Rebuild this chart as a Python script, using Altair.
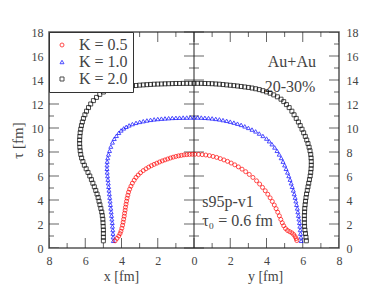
import altair as alt
import pandas as pd

FONT = "Liberation Serif"
TXT = "#444444"

labels = ["K = 0.5", "K = 1.0", "K = 2.0"]
colors = ["#ff0000", "#0000ff", "#000000"]
shapes = ["circle", "triangle-up", "square"]

# K = 0.5 (red circles): left half x [fm] vs tau, right half y [fm] vs tau
k05_x = [4.35, 4.25, 4.15, 4.08, 4.03, 3.98, 3.94, 3.91, 3.88, 3.85, 3.83, 3.80, 3.78, 3.75, 3.72,
         3.69, 3.65, 3.61, 3.55, 3.48, 3.40, 3.30, 3.20, 3.08, 2.95, 2.80, 2.65, 2.50, 2.35, 2.20,
         2.05, 1.90, 1.75, 1.60, 1.45, 1.30, 1.15, 1.00, 0.85, 0.70, 0.55, 0.40, 0.25, 0.10]
k05_x_tau = [0.60, 0.80, 1.00, 1.20, 1.40, 1.65, 1.90, 2.15, 2.40, 2.65, 2.90, 3.15, 3.40, 3.65, 3.90,
             4.15, 4.40, 4.65, 4.90, 5.15, 5.40, 5.65, 5.88, 6.08, 6.27, 6.45, 6.60, 6.74, 6.86, 6.97,
             7.07, 7.17, 7.26, 7.34, 7.42, 7.50, 7.57, 7.63, 7.68, 7.72, 7.76, 7.78, 7.80, 7.81]
k05_y = [0.05, 0.25, 0.45, 0.65, 0.85, 1.05, 1.25, 1.45, 1.65, 1.85, 2.05, 2.25, 2.45, 2.65, 2.85,
         3.05, 3.25, 3.45, 3.62, 3.78, 3.93, 4.07, 4.20, 4.32, 4.43, 4.53, 4.62, 4.71, 4.79, 4.87,
         4.95, 5.05, 5.16, 5.28, 5.40, 5.50, 5.58, 5.64, 5.67]
k05_y_tau = [7.81, 7.80, 7.78, 7.75, 7.70, 7.63, 7.55, 7.45, 7.34, 7.22, 7.08, 6.93, 6.76, 6.57, 6.36,
             6.13, 5.88, 5.60, 5.33, 5.05, 4.77, 4.48, 4.18, 3.88, 3.58, 3.28, 2.98, 2.68, 2.38, 2.10,
             1.85, 1.62, 1.46, 1.36, 1.26, 1.12, 0.95, 0.78, 0.62]

# K = 1.0 (blue triangles)
k10_x = [4.45, 4.46, 4.47, 4.48, 4.50, 4.51, 4.53, 4.55, 4.57, 4.59, 4.61, 4.63, 4.65, 4.67, 4.69,
         4.71, 4.73, 4.75, 4.77, 4.79, 4.80, 4.80, 4.79, 4.76, 4.72, 4.66, 4.59, 4.50, 4.40, 4.28,
         4.15, 4.02, 3.88, 3.74, 3.58, 3.40, 3.20, 3.00, 2.80, 2.60, 2.40, 2.20, 2.00, 1.80, 1.60,
         1.40, 1.20, 1.00, 0.80, 0.60, 0.40, 0.20, 0.00]
k10_x_tau = [0.60, 0.90, 1.20, 1.50, 1.80, 2.10, 2.40, 2.70, 3.00, 3.30, 3.60, 3.90, 4.20, 4.50, 4.80,
             5.10, 5.40, 5.70, 6.00, 6.30, 6.60, 6.90, 7.20, 7.50, 7.80, 8.10, 8.45, 8.80, 9.10, 9.35,
             9.60, 9.80, 9.97, 10.10, 10.22, 10.33, 10.43, 10.51, 10.57, 10.63, 10.68, 10.72, 10.75, 10.78, 10.80,
             10.82, 10.84, 10.85, 10.86, 10.87, 10.87, 10.88, 10.88]
k10_y = [0.20, 0.40, 0.60, 0.80, 1.00, 1.20, 1.40, 1.60, 1.80, 2.00, 2.20, 2.40, 2.60, 2.80, 3.00,
         3.20, 3.40, 3.60, 3.80, 4.00, 4.15, 4.30, 4.45, 4.58, 4.70, 4.81, 4.91, 5.00, 5.08, 5.16,
         5.23, 5.30, 5.36, 5.42, 5.48, 5.53, 5.58, 5.62, 5.66, 5.70, 5.73, 5.76, 5.79, 5.82, 5.84,
         5.86, 5.88, 5.90, 5.91]
k10_y_tau = [10.88, 10.87, 10.85, 10.83, 10.80, 10.76, 10.72, 10.66, 10.60, 10.53, 10.45, 10.36, 10.26, 10.14, 10.01,
             9.87, 9.72, 9.54, 9.34, 9.12, 8.90, 8.65, 8.38, 8.10, 7.80, 7.50, 7.20, 6.90, 6.60, 6.30,
             6.00, 5.70, 5.40, 5.10, 4.80, 4.50, 4.20, 3.90, 3.60, 3.30, 3.00, 2.70, 2.40, 2.10, 1.80,
             1.50, 1.20, 0.90, 0.60]

# K = 2.0 (black squares)
k20_x = [5.00, 5.00, 5.00, 5.00, 5.01, 5.02, 5.03, 5.06, 5.09, 5.14, 5.19, 5.24, 5.29, 5.35, 5.42,
         5.50, 5.58, 5.66, 5.75, 5.85, 5.95, 6.05, 6.13, 6.20, 6.25, 6.28, 6.30, 6.31, 6.31, 6.30,
         6.28, 6.25, 6.21, 6.16, 6.10, 6.02, 5.93, 5.82, 5.70, 5.55, 5.38, 5.20, 5.00, 4.80, 4.60,
         4.40, 4.20, 4.00, 3.80, 3.60, 3.40, 3.20, 3.00, 2.80, 2.60, 2.40, 2.20, 2.00, 1.80, 1.60,
         1.40, 1.20, 1.00, 0.80, 0.60, 0.40, 0.20, 0.00]
k20_x_tau = [0.60, 0.90, 1.20, 1.50, 1.80, 2.10, 2.40, 2.70, 3.00, 3.30, 3.60, 3.90, 4.20, 4.50, 4.80,
             5.10, 5.40, 5.70, 6.00, 6.30, 6.60, 6.90, 7.20, 7.50, 7.80, 8.10, 8.40, 8.70, 9.00, 9.30,
             9.60, 9.90, 10.20, 10.50, 10.80, 11.10, 11.40, 11.70, 12.00, 12.28, 12.55, 12.80, 13.00, 13.13, 13.23,
             13.31, 13.37, 13.42, 13.46, 13.49, 13.52, 13.54, 13.57, 13.59, 13.61, 13.63, 13.65, 13.66, 13.67, 13.68,
             13.69, 13.70, 13.71, 13.71, 13.72, 13.72, 13.72, 13.72]
k20_y = [0.20, 0.40, 0.60, 0.80, 1.00, 1.20, 1.40, 1.60, 1.80, 2.00, 2.20, 2.40, 2.60, 2.80, 3.00,
         3.20, 3.40, 3.60, 3.80, 4.00, 4.20, 4.40, 4.60, 4.80, 4.95, 5.10, 5.25, 5.40, 5.52, 5.64,
         5.76, 5.86, 5.96, 6.05, 6.14, 6.22, 6.29, 6.35, 6.40, 6.44, 6.46, 6.47, 6.47, 6.46, 6.44,
         6.41, 6.37, 6.33, 6.29, 6.25, 6.21, 6.18, 6.15, 6.13, 6.11, 6.10, 6.09, 6.09, 6.09, 6.10,
         6.12, 6.15, 6.18, 6.20]
k20_y_tau = [13.72, 13.72, 13.71, 13.70, 13.69, 13.67, 13.65, 13.62, 13.59, 13.56, 13.53, 13.50, 13.46, 13.42, 13.38,
             13.33, 13.27, 13.20, 13.11, 13.01, 12.90, 12.76, 12.60, 12.40, 12.20, 11.95, 11.70, 11.40, 11.10, 10.80,
             10.50, 10.20, 9.90, 9.60, 9.30, 9.00, 8.70, 8.40, 8.10, 7.80, 7.50, 7.20, 6.90, 6.60, 6.30,
             6.00, 5.70, 5.40, 5.10, 4.80, 4.50, 4.20, 3.90, 3.60, 3.30, 3.00, 2.70, 2.40, 2.10, 1.80,
             1.50, 1.20, 0.90, 0.60]

# tick positions
x_major = [-8, -6, -4, -2, 0, 2, 4, 6, 8]
x_minor = [-7, -5, -3, -1, 1, 3, 5, 7]
y_major = [0, 2, 4, 6, 8, 10, 12, 14, 16, 18]
y_minor = [1, 3, 5, 7, 9, 11, 13, 15, 17]

# annotations
ann_text = ["Au+Au", "20-30%"]
ann_pos = [5.4, 5.3]
ann_tau = [15.5, 13.4]
note_text = ["s95p-v1", "τ₀ = 0.6 fm"]
note_pos = [0.45, 0.45]
note_tau = [3.8, 2.25]
xt_text = ["x [fm]", "y [fm]"]
xt_pos = [-4.0, 3.95]
xt_tau = [-2.45, -2.45]

rows = []
for lab, xr, xt, yr, yt in [
    (labels[0], k05_x, k05_x_tau, k05_y, k05_y_tau),
    (labels[1], k10_x, k10_x_tau, k10_y, k10_y_tau),
    (labels[2], k20_x, k20_x_tau, k20_y, k20_y_tau),
]:
    for r, t in zip(xr, xt):
        rows.append({"pos": -r, "tau": t, "K": lab})
    for r, t in zip(yr, yt):
        rows.append({"pos": r, "tau": t, "K": lab})
df = pd.DataFrame(rows)

xs = alt.Scale(domain=[-8, 8], nice=False, zero=False)
ys = alt.Scale(domain=[0, 18], nice=False, zero=False)

X_AXIS = dict(values=x_major, labelExpr="abs(datum.value)", ticks=False, domain=False,
              grid=False, title=None, labelFont=FONT, labelFontSize=12, labelColor=TXT,
              labelPadding=7, labelFlush=False, labelOverlap=False)
YL_AXIS = dict(values=y_major, ticks=False, domain=False, grid=False, title="τ [fm]",
               labelFont=FONT, labelFontSize=12, labelColor=TXT, labelPadding=6,
               labelFlush=False, labelOverlap=False, titleFont=FONT, titleFontSize=15,
               titleColor=TXT, titleFontWeight="normal", titlePadding=6)
YR_AXIS = dict(values=y_major, orient="right", ticks=False, domain=False, grid=False,
               title=None, labelFont=FONT, labelFontSize=12, labelColor=TXT,
               labelPadding=7, labelFlush=False, labelOverlap=False)


def X(field):
    return alt.X(field, scale=xs, axis=alt.Axis(**X_AXIS), title=None)


def YL(field):
    return alt.Y(field, scale=ys, axis=alt.Axis(**YL_AXIS), title="τ [fm]")


def YR(field):
    return alt.Y(field, scale=ys, axis=alt.Axis(**YR_AXIS), title=None)


LEG = dict(title=None, orient="top-left", offset=0, padding=5,
           strokeColor="#333333", fillColor="white",
           labelFont=FONT, labelFontSize=16, labelColor=TXT,
           symbolSize=16, symbolStrokeWidth=1, rowPadding=1, labelOffset=9)

points = alt.Chart(df).mark_point(filled=False, strokeWidth=1, size=16).encode(
    x=X("pos:Q"),
    y=YL("tau:Q"),
    color=alt.Color("K:N", scale=alt.Scale(domain=labels, range=colors), legend=alt.Legend(**LEG)),
    shape=alt.Shape("K:N", scale=alt.Scale(domain=labels, range=shapes), legend=alt.Legend(**LEG)),
    order=alt.Order("K:N", sort="descending"),
)


def vticks(vals, at, length, clip=True):
    d = pd.DataFrame({"v": vals, "at": [at] * len(vals)})
    return alt.Chart(d).mark_tick(orient="vertical", size=length, thickness=1,
                                  color="#222222", clip=clip).encode(x=X("v:Q"), y=YL("at:Q"))


def hticks(vals, at, length, clip=True, right=False):
    d = pd.DataFrame({"v": vals, "at": [at] * len(vals)})
    return alt.Chart(d).mark_tick(orient="horizontal", size=length, thickness=1,
                                  color="#222222", clip=clip).encode(
        y=(YR("v:Q") if right else YL("v:Q")), x=X("at:Q"))


center = pd.DataFrame({"c": [0], "y0": [0], "y1": [18]})
center_line = alt.Chart(center).mark_rule(color="#222222", strokeWidth=1).encode(
    x=X("c:Q"), y=YL("y0:Q"), y2="y1:Q")


def texts(t, p, tau, size, align):
    d = pd.DataFrame({"t": t, "p": p, "tau": tau})
    return alt.Chart(d).mark_text(font=FONT, fontSize=size, color=TXT, align=align,
                                  baseline="middle").encode(x=X("p:Q"), y=YL("tau:Q"), text="t:N")


inner = alt.layer(
    center_line,
    vticks(x_major, 0, 20), vticks(x_minor, 0, 10),
    vticks(x_major, 18, 20), vticks(x_minor, 18, 10),
    hticks(y_major, -8, 20), hticks(y_minor, -8, 10),
    hticks(y_major, 0, 20, clip=False), hticks(y_minor, 0, 10, clip=False),
    texts(ann_text, ann_pos, ann_tau, 16, "center"),
    texts(note_text, note_pos, note_tau, 16, "left"),
    texts(xt_text, xt_pos, xt_tau, 14, "center"),
    points,
)

right = alt.layer(
    hticks(y_major, 8, 20, right=True),
    hticks(y_minor, 8, 10, right=True),
)

chart = alt.layer(inner, right).resolve_scale(y="independent").properties(
    width=290, height=216,
    padding={"left": 41, "top": 24, "right": 21, "bottom": 39},
    autosize=alt.AutoSizeParams(type="none"),
).configure_view(stroke="#555555", strokeWidth=1.5)

chart.save("out.html", embed_options={"renderer": "svg", "actions": False})
